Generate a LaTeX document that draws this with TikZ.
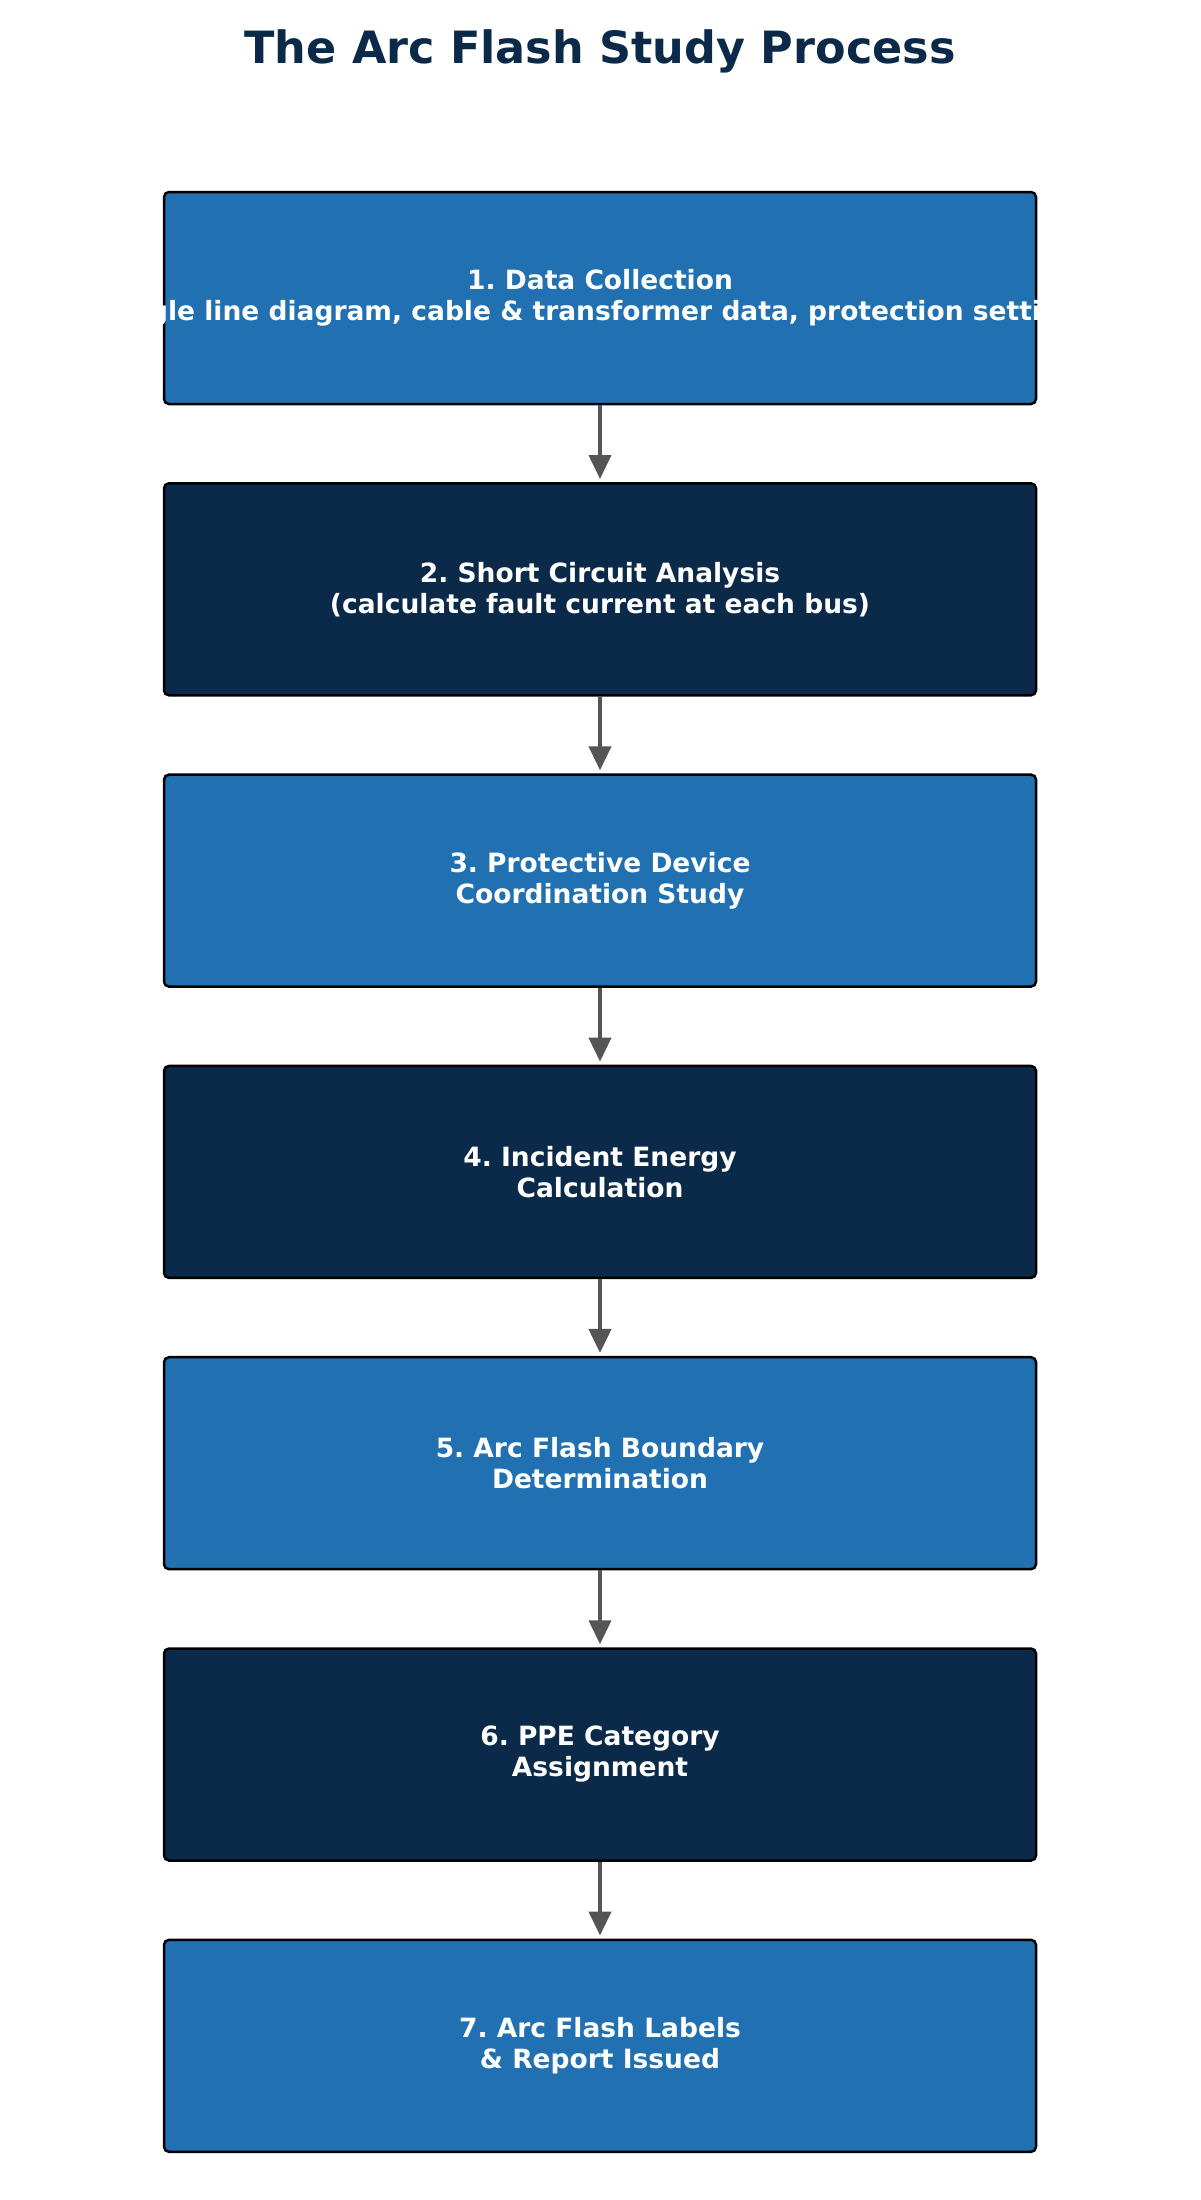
\documentclass[tikz,border=0pt]{standalone}
\usepackage{fontspec}
\setmainfont{DejaVu Sans}
\usetikzlibrary{arrows.meta}
\definecolor{bluebox}{HTML}{2170B1}
\definecolor{navybox}{HTML}{0B2A4A}
\definecolor{arrowgrey}{HTML}{555555}
\tikzset{
  stepbox/.style={draw=black, line width=2.5pt, rounded corners=5pt, minimum width=872pt, minimum height=212pt, inner sep=0pt},
  steptext/.style={text=white, font=\frenchspacing\bfseries\fontsize{26.5}{31}\selectfont, align=center, inner sep=0pt},
  flowarrow/.style={draw=arrowgrey, line width=4pt, -{Triangle[length=24pt,width=22pt]}, shorten >=3pt},
}
\begin{document}
\begin{tikzpicture}[x=1pt,y=-1pt]
\useasboundingbox (0,0) rectangle (1200,2200);
\node[text=navybox, font=\frenchspacing\bfseries\fontsize{44.5}{52}\selectfont] (title) at (600,51) {The Arc Flash Study Process};
\def\pitch{291.3}
\node[stepbox, fill=bluebox] (b1) at (600,298) {};
\node[stepbox, fill=navybox] (b2) at (600,298+\pitch) {};
\node[stepbox, fill=bluebox] (b3) at (600,298+2*\pitch) {};
\node[stepbox, fill=navybox] (b4) at (600,298+3*\pitch) {};
\node[stepbox, fill=bluebox] (b5) at (600,298+4*\pitch) {};
\node[stepbox, fill=navybox] (b6) at (600,298+5*\pitch) {};
\node[stepbox, fill=bluebox] (b7) at (600,298+6*\pitch) {};
\begin{scope}
\clip (b1.south west) rectangle (b1.north east);
\node[steptext] (t1) at (b1) {1. Data Collection\\(single line diagram, cable \& transformer data, protection settings)};
\end{scope}
\node[steptext] (t2) at (b2) {2. Short Circuit Analysis\\(calculate fault current at each bus)};
\node[steptext] (t3) at (b3) {3. Protective Device\\Coordination Study};
\node[steptext] (t4) at (b4) {4. Incident Energy\\Calculation};
\node[steptext] (t5) at (b5) {5. Arc Flash Boundary\\Determination};
\node[steptext] (t6) at (b6) {6. PPE Category\\Assignment};
\node[steptext] (t7) at (b7) {7. Arc Flash Labels\\\& Report Issued};
\draw[flowarrow] (b1.south) -- (b2.north);
\draw[flowarrow] (b2.south) -- (b3.north);
\draw[flowarrow] (b3.south) -- (b4.north);
\draw[flowarrow] (b4.south) -- (b5.north);
\draw[flowarrow] (b5.south) -- (b6.north);
\draw[flowarrow] (b6.south) -- (b7.north);
\end{tikzpicture}
\end{document}
